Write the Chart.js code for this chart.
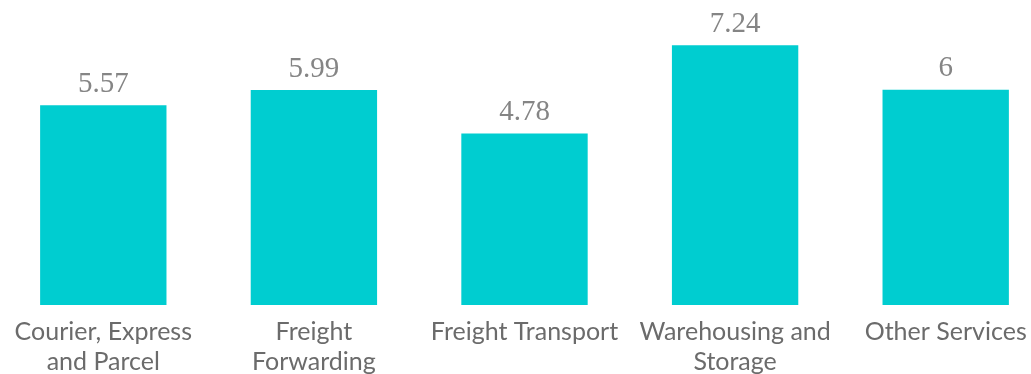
<!DOCTYPE html>
<html>
<head>
<meta charset="utf-8">
<script src="https://cdn.jsdelivr.net/npm/chart.js@4/dist/chart.umd.min.js"></script>
<style>
  html, body { margin: 0; padding: 0; background: #ffffff; overflow: hidden; width: 1031px; height: 374px; }
  #wrap { position: absolute; left: -2px; top: 0; width: 1053px; height: 374px; }
</style>
</head>
<body>
<div id="wrap"><canvas id="chart"></canvas></div>
<script>
// Market segments and their values
const categories = [
  ["Courier, Express", "and Parcel"],
  ["Freight", "Forwarding"],
  "Freight Transport",
  ["Warehousing and", "Storage"],
  "Other Services"
];
const values = [5.57, 5.99, 4.78, 7.24, 6];

const barColor = "#00CDD0";

// Writes each bar's value above it
const valueLabels = {
  id: "valueLabels",
  afterDatasetsDraw(chart) {
    const ctx = chart.ctx;
    const meta = chart.getDatasetMeta(0);
    ctx.save();
    ctx.font = "29px 'Liberation Serif', 'Times New Roman', serif";
    ctx.fillStyle = "#858585";
    ctx.textAlign = "center";
    ctx.textBaseline = "alphabetic";
    meta.data.forEach((bar, i) => {
      const v = chart.data.datasets[0].data[i];
      ctx.fillText(String(v), bar.x, bar.y - 13.5);
    });
    ctx.restore();
  }
};

new Chart(document.getElementById("chart"), {
  type: "bar",
  data: {
    labels: categories,
    datasets: [{
      data: values,
      backgroundColor: barColor,
      borderWidth: 0,
      barPercentage: 0.6,
      categoryPercentage: 1.0
    }]
  },
  options: {
    responsive: true,
    maintainAspectRatio: false,
    animation: false,
    layout: { padding: 0 },
    plugins: {
      legend: { display: false },
      tooltip: { enabled: false }
    },
    scales: {
      x: {
        grid: { display: false, drawTicks: false },
        border: { display: false },
        ticks: {
          maxRotation: 0,
          autoSkip: false,
          padding: 12,
          color: "#6b6b6b",
          font: { family: "Lato, 'Open Sans', sans-serif", size: 25, lineHeight: 1.2 }
        },
        afterFit(scale) { scale.height = 69; }
      },
      y: {
        display: false,
        min: 0,
        max: 8.5
      }
    }
  },
  plugins: [valueLabels]
});
</script>
</body>
</html>
